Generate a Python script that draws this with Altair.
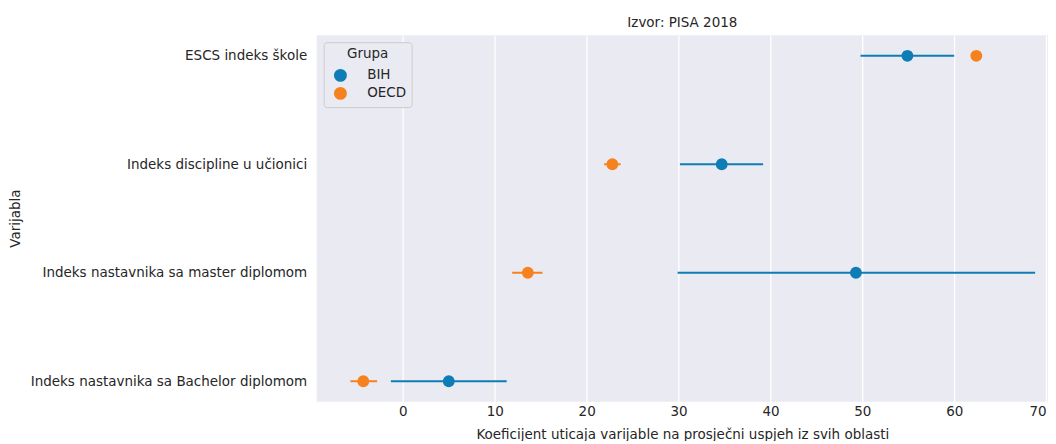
import altair as alt
import pandas as pd

variables = [
    "ESCS indeks škole",
    "Indeks discipline u učionici",
    "Indeks nastavnika sa master diplomom",
    "Indeks nastavnika sa Bachelor diplomom",
]
groups = ["BIH", "OECD"]

bih_coef = [54.9, 34.7, 49.3, 5.0]
bih_lo = [49.8, 30.15, 29.9, -1.3]
bih_hi = [60.0, 39.2, 68.8, 11.3]

oecd_coef = [62.4, 22.8, 13.6, -4.3]
oecd_lo = [62.1, 21.9, 11.9, -5.7]
oecd_hi = [62.7, 23.7, 15.2, -2.8]

rows = []
for i, v in enumerate(variables):
    rows.append({"Varijabla": v, "Grupa": "BIH", "coef": bih_coef[i], "lo": bih_lo[i], "hi": bih_hi[i]})
for i, v in enumerate(variables):
    rows.append({"Varijabla": v, "Grupa": "OECD", "coef": oecd_coef[i], "lo": oecd_lo[i], "hi": oecd_hi[i]})
df = pd.DataFrame(rows)

FONT = "DejaVu Sans"
TXT = "#262626"
FS = 13.5
colors = ["#0f7db5", "#f5821f"]

xscale = alt.Scale(domain=[-9.37, 70.2], nice=False, zero=False)
yscale = alt.Scale(type="point", domain=variables, padding=0.19)
legend = alt.Legend(title="Grupa", orient="none", legendX=7, legendY=7,
                    fillColor="#EAEAF2", strokeColor="#cccccc",
                    cornerRadius=3, padding=5,
                    titleAnchor="middle", titleFontSize=FS,
                    titleFontWeight="normal", titleColor=TXT, titlePadding=8,
                    labelFontSize=FS, labelColor=TXT,
                    symbolSize=130, labelOffset=20, symbolOffset=5,
                    symbolType="circle", rowPadding=0)
cscale = alt.Scale(domain=groups, range=colors)

base = alt.Chart(df)

rules = base.mark_rule(strokeWidth=2).encode(
    y=alt.Y("Varijabla:N", scale=yscale, sort=variables,
            axis=alt.Axis(title="Varijabla", grid=False, ticks=False, domain=False,
                          labelPadding=10, labelFontSize=FS, labelColor=TXT, labelLimit=400,
                          titleFontSize=FS, titleFontWeight="normal", titleColor=TXT,
                          titleX=-301, titleY=183, titleAngle=270, titleBaseline="middle",
                          titleAlign="center")),
    x=alt.X("lo:Q", scale=xscale,
            axis=alt.Axis(title="Koeficijent uticaja varijable na prosječni uspjeh iz svih oblasti",
                          values=[0, 10, 20, 30, 40, 50, 60, 70], grid=True,
                          gridColor="white", gridWidth=1.3, ticks=False, domain=False,
                          labelFlush=3,
                          labelPadding=3, labelFontSize=FS, labelColor=TXT,
                          titleFontSize=FS, titleFontWeight="normal", titleColor=TXT,
                          titlePadding=9)),
    x2="hi:Q",
    color=alt.Color("Grupa:N", scale=cscale, legend=legend),
)

points = base.mark_point(filled=True, opacity=1, size=140, shape="circle").encode(
    y=alt.Y("Varijabla:N", scale=yscale, sort=variables),
    x=alt.X("coef:Q", scale=xscale),
    color=alt.Color("Grupa:N", scale=cscale, legend=legend),
)

chart = alt.layer(rules, points).properties(
    width=732, height=367,
    title=alt.TitleParams("Izvor: PISA 2018", fontSize=FS, fontWeight="normal",
                          color=TXT, font=FONT, offset=6, anchor="middle"),
    padding={"left": 1, "top": 7, "right": 0, "bottom": 0},
).configure(
    font=FONT,
).configure_view(
    fill="#EAEAF2", stroke=None,
)

chart.save("out.html", embed_options={"renderer": "svg", "actions": False})
